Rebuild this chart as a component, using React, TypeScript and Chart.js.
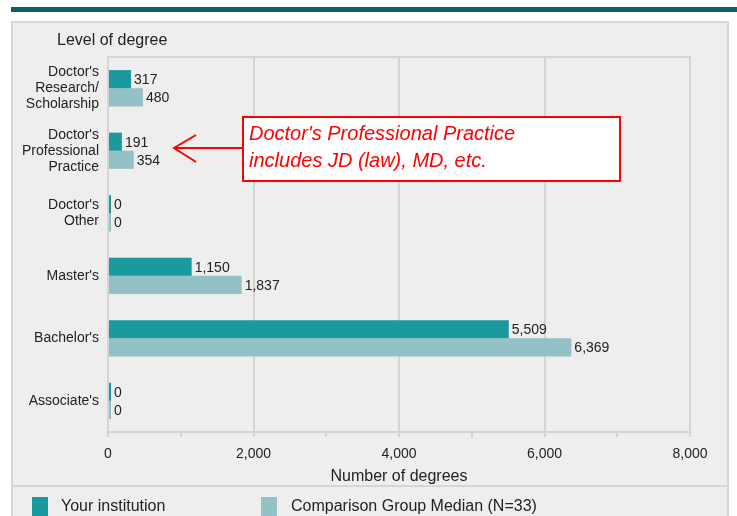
import React, { useEffect, useRef } from "react";
import { Chart, registerables } from "chart.js";

Chart.register(...registerables);

const categories: (string | string[])[] = [
  ["Doctor's", "Research/", "Scholarship"],
  ["Doctor's", "Professional", "Practice"],
  ["Doctor's", "Other"],
  "Master's",
  "Bachelor's",
  "Associate's",
];
const seriesNames = ["Your institution", "Comparison Group Median (N=33)"];
const yourInstitution = [317, 191, 0, 1150, 5509, 0];
const comparisonMedian = [480, 354, 0, 1837, 6369, 0];
const xTickValues = [0, 2000, 4000, 6000, 8000];
const axisTitleY = "Level of degree";
const axisTitleX = "Number of degrees";
const noteLines = ["Doctor's Professional Practice", "includes JD (law), MD, etc."];

const DARK = "#1a999e";
const LIGHT = "#93c1c6";
const GRID = "#d4d4d4";
const TEXT = "#222222";
const FONT = "'Liberation Sans', Arial, sans-serif";

const fmt = (v: number) => v.toLocaleString("en-US");

export default function App() {
  const ref = useRef<HTMLCanvasElement | null>(null);

  useEffect(() => {
    const canvas = ref.current;
    if (!canvas) return;
    Chart.defaults.font.family = FONT;

    const decor = {
      id: "decor",
      beforeDraw(chart: any) {
        const ctx = chart.ctx;
        ctx.save();
        ctx.fillStyle = "#ffffff";
        ctx.fillRect(0, 0, chart.width, chart.height);
        // top band
        ctx.fillStyle = "#0b6266";
        ctx.fillRect(11, 7, chart.width - 11, 5);
        // panel
        ctx.fillStyle = "#eeeeee";
        ctx.fillRect(11, 21, 718, 500);
        ctx.strokeStyle = "#d6d6d6";
        ctx.lineWidth = 2;
        ctx.strokeRect(12, 22, 716, 500);
        // separator above legend
        ctx.beginPath();
        ctx.moveTo(12, 486);
        ctx.lineTo(728, 486);
        ctx.stroke();
        // y axis title
        ctx.fillStyle = TEXT;
        ctx.font = `16px ${FONT}`;
        ctx.textBaseline = "middle";
        ctx.textAlign = "left";
        ctx.fillText(axisTitleY, 57, 41);
        // top border of plot
        const a = chart.chartArea;
        ctx.strokeStyle = GRID;
        ctx.beginPath();
        ctx.moveTo(a.left, a.top);
        ctx.lineTo(a.right + 1, a.top);
        ctx.stroke();
        ctx.restore();
      },
      afterDatasetsDraw(chart: any) {
        const ctx = chart.ctx;
        ctx.save();
        ctx.fillStyle = TEXT;
        ctx.font = `14px ${FONT}`;
        ctx.textBaseline = "middle";
        ctx.textAlign = "left";
        chart.data.datasets.forEach((ds: any, i: number) => {
          const meta = chart.getDatasetMeta(i);
          meta.data.forEach((bar: any, j: number) => {
            ctx.fillText(fmt(ds.data[j]), bar.x + 3, bar.y + 1);
          });
        });
        ctx.restore();
      },
      afterDraw(chart: any) {
        const ctx = chart.ctx;
        ctx.save();
        // annotation arrow
        ctx.strokeStyle = "#ff0000";
        ctx.lineWidth = 2;
        ctx.beginPath();
        ctx.moveTo(243, 148);
        ctx.lineTo(174, 148);
        ctx.moveTo(196, 135);
        ctx.lineTo(174, 148);
        ctx.lineTo(196, 162);
        ctx.stroke();
        // annotation box
        ctx.fillStyle = "#ffffff";
        ctx.fillRect(243, 117, 377, 64);
        ctx.strokeRect(243, 117, 377, 64);
        ctx.fillStyle = "#ff0000";
        ctx.font = `italic 20px ${FONT}`;
        ctx.textBaseline = "middle";
        ctx.textAlign = "left";
        ctx.fillText(noteLines[0], 249, 134);
        ctx.fillText(noteLines[1], 249, 161);
        // legend
        const items = [
          { x: 32, tx: 61, color: DARK },
          { x: 261, tx: 291, color: LIGHT },
        ];
        ctx.font = `16px ${FONT}`;
        items.forEach((it, k) => {
          ctx.fillStyle = it.color;
          ctx.fillRect(it.x, 497, 16, 20);
          ctx.fillStyle = TEXT;
          ctx.fillText(seriesNames[k], it.tx, 507);
        });
        ctx.restore();
      },
    };

    const chart = new Chart(canvas, {
      type: "bar",
      data: {
        labels: categories as any,
        datasets: [
          {
            label: seriesNames[0],
            data: yourInstitution,
            backgroundColor: DARK,
            borderWidth: 0,
            minBarLength: 3,
          },
          {
            label: seriesNames[1],
            data: comparisonMedian,
            backgroundColor: LIGHT,
            borderWidth: 0,
            minBarLength: 3,
          },
        ],
      },
      options: {
        indexAxis: "y",
        responsive: false,
        animation: false,
        devicePixelRatio: 1,
        layout: { padding: { left: 0, top: 57, right: 47, bottom: 30 } },
        datasets: { bar: { categoryPercentage: 0.58, barPercentage: 1 } },
        plugins: {
          legend: { display: false },
          title: { display: false },
          tooltip: { enabled: false },
        },
        scales: {
          x: {
            type: "linear",
            min: 0,
            max: 8000,
            afterFit(scale: any) {
              scale.height = 54;
            },
            afterBuildTicks(scale: any) {
              const t: any[] = [];
              for (let v = 0; v <= 8000; v += 1000) t.push({ value: v });
              scale.ticks = t;
            },
            ticks: {
              autoSkip: false,
              maxRotation: 0,
              padding: 9,
              color: TEXT,
              font: { size: 14 },
              callback: (v: any) => (xTickValues.includes(Number(v)) ? fmt(Number(v)) : ""),
            },
            grid: {
              lineWidth: 2,
              tickLength: 5,
              color: (c: any) =>
                c.tick && xTickValues.includes(c.tick.value) && c.tick.value !== 0 ? GRID : "rgba(0,0,0,0)",
              tickColor: GRID,
            },
            border: { display: true, color: GRID, width: 2 },
            title: {
              display: true,
              text: axisTitleX,
              color: TEXT,
              font: { size: 16 },
              padding: { top: 0, bottom: 0 },
            },
          },
          y: {
            type: "category",
            afterFit(scale: any) {
              scale.width = 108;
            },
            ticks: {
              color: TEXT,
              padding: 9,
              font: { size: 14, lineHeight: 1.15 },
            },
            grid: { display: false, drawTicks: false },
            border: { display: true, color: GRID, width: 2 },
          },
        },
      },
      plugins: [decor],
    } as any);
    return () => chart.destroy();
  }, []);

  return (
    <div style={{ position: "absolute", left: 0, top: 0, width: 737, height: 516 }}>
      <canvas ref={ref} width={737} height={516} style={{ display: "block" }} />
    </div>
  );
}
